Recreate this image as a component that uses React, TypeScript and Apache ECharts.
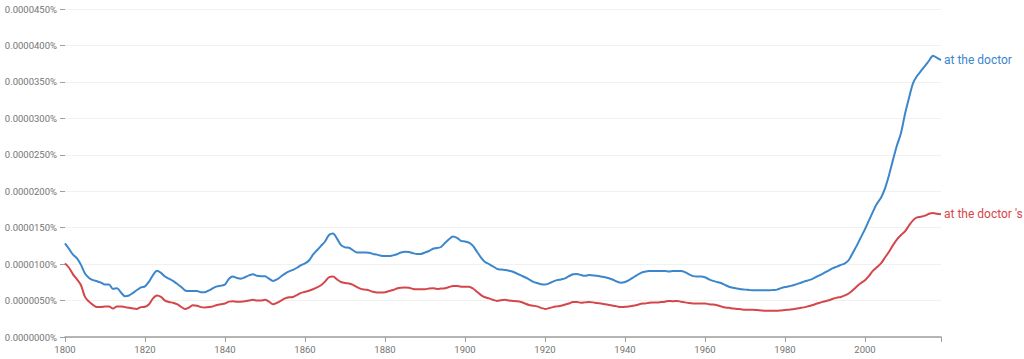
import React, { useEffect, useRef } from "react";
import * as echarts from "echarts";

const startYear = 1800;
const endYear = 2019;

// values in units of 0.000001 %
const atTheDoctor = [
  12.85, 12.1, 11.3, 10.8, 9.9, 8.7, 8.1, 7.8, 7.65, 7.45,
  7.2, 7.2, 6.6, 6.7, 6.1, 5.6, 5.7, 6.05, 6.45, 6.8,
  6.95, 7.6, 8.5, 9.1, 8.8, 8.3, 8.0, 7.7, 7.3, 6.9,
  6.4, 6.3, 6.3, 6.3, 6.15, 6.15, 6.4, 6.7, 6.95, 7.05,
  7.2, 8.0, 8.3, 8.1, 8.0, 8.2, 8.45, 8.6, 8.4, 8.35,
  8.35, 8.0, 7.7, 7.9, 8.3, 8.7, 9.0, 9.2, 9.5, 9.85,
  10.1, 10.5, 11.3, 11.9, 12.5, 13.1, 14.0, 14.2, 13.5, 12.6,
  12.3, 12.25, 11.9, 11.6, 11.6, 11.6, 11.55, 11.4, 11.3, 11.15,
  11.1, 11.1, 11.2, 11.35, 11.6, 11.7, 11.65, 11.5, 11.4, 11.4,
  11.6, 11.8, 12.1, 12.2, 12.35, 12.9, 13.4, 13.8, 13.6, 13.2,
  13.1, 12.95, 12.5, 11.7, 10.9, 10.3, 10.0, 9.7, 9.35, 9.25,
  9.2, 9.1, 8.95, 8.7, 8.45, 8.2, 7.9, 7.6, 7.4, 7.25,
  7.2, 7.35, 7.6, 7.8, 7.9, 8.05, 8.35, 8.6, 8.65, 8.5,
  8.4, 8.5, 8.45, 8.4, 8.3, 8.2, 8.05, 7.85, 7.6, 7.45,
  7.55, 7.8, 8.15, 8.5, 8.8, 8.95, 9.05, 9.05, 9.05, 9.05,
  9.05, 9.0, 9.05, 9.05, 9.05, 8.9, 8.6, 8.35, 8.3, 8.3,
  8.2, 7.9, 7.7, 7.55, 7.4, 7.15, 6.9, 6.75, 6.65, 6.55,
  6.5, 6.45, 6.4, 6.4, 6.4, 6.4, 6.4, 6.45, 6.5, 6.7,
  6.85, 6.95, 7.1, 7.25, 7.45, 7.65, 7.8, 8.0, 8.3, 8.55,
  8.85, 9.15, 9.45, 9.65, 9.9, 10.1, 10.6, 11.6, 12.6, 13.7,
  14.8, 16.0, 17.2, 18.3, 19.1, 20.4, 22.2, 24.3, 26.3, 28.0,
  30.6, 32.8, 34.8, 35.8, 36.5, 37.2, 37.9, 38.6, 38.3, 38.0,
];

const atTheDoctors = [
  10.1, 9.5, 8.6, 7.9, 7.1, 5.5, 4.85, 4.4, 4.1, 4.1,
  4.2, 4.2, 3.9, 4.2, 4.2, 4.1, 4.0, 3.9, 3.85, 4.1,
  4.15, 4.5, 5.3, 5.7, 5.5, 5.0, 4.8, 4.7, 4.5, 4.15,
  3.85, 4.05, 4.35, 4.3, 4.1, 4.05, 4.1, 4.2, 4.4, 4.5,
  4.6, 4.85, 4.9, 4.85, 4.85, 4.9, 5.0, 5.1, 5.0, 5.0,
  5.1, 4.85, 4.5, 4.7, 5.0, 5.3, 5.45, 5.5, 5.75, 6.05,
  6.2, 6.35, 6.55, 6.8, 7.1, 7.6, 8.2, 8.3, 7.9, 7.55,
  7.4, 7.35, 7.15, 6.85, 6.6, 6.5, 6.4, 6.2, 6.1, 6.1,
  6.15, 6.3, 6.45, 6.65, 6.75, 6.8, 6.75, 6.6, 6.55, 6.55,
  6.55, 6.65, 6.7, 6.6, 6.65, 6.7, 6.85, 7.0, 7.0, 6.9,
  6.9, 6.9, 6.65, 6.2, 5.75, 5.45, 5.3, 5.1, 4.95, 5.05,
  5.1, 5.0, 4.95, 4.9, 4.8, 4.6, 4.4, 4.3, 4.2, 4.0,
  3.85, 3.95, 4.1, 4.2, 4.3, 4.45, 4.6, 4.8, 4.8, 4.7,
  4.75, 4.8, 4.75, 4.65, 4.6, 4.5, 4.4, 4.3, 4.2, 4.1,
  4.15, 4.2, 4.3, 4.4, 4.55, 4.6, 4.7, 4.75, 4.75, 4.8,
  4.85, 4.95, 4.9, 4.95, 4.85, 4.75, 4.65, 4.6, 4.6, 4.6,
  4.6, 4.5, 4.45, 4.35, 4.2, 4.05, 4.0, 3.9, 3.85, 3.8,
  3.75, 3.75, 3.75, 3.7, 3.65, 3.6, 3.6, 3.6, 3.6, 3.65,
  3.7, 3.75, 3.8, 3.9, 4.0, 4.1, 4.25, 4.4, 4.6, 4.75,
  4.9, 5.05, 5.25, 5.4, 5.5, 5.7, 6.0, 6.45, 6.95, 7.4,
  7.8, 8.4, 9.1, 9.6, 10.1, 10.9, 11.7, 12.6, 13.4, 14.0,
  14.5, 15.3, 16.0, 16.4, 16.5, 16.65, 16.9, 17.0, 16.9, 16.85,
];

const seriesNames = ["at the doctor", "at the doctor 's"];
const seriesColors = ["#3b86cc", "#d5464a"];

const toPairs = (vals: number[]) => vals.map((v, i) => [startYear + i, v]);

export default function App() {
  const ref = useRef<HTMLDivElement>(null);
  useEffect(() => {
    if (!ref.current) return;
    const chart = echarts.init(ref.current, null, { renderer: "svg" });
    const font = "Roboto, 'Noto Sans', sans-serif";
    const mk = (idx: number, vals: number[]) => ({
      type: "line",
      name: seriesNames[idx],
      data: toPairs(vals),
      showSymbol: false,
      smooth: 0.3,
      lineStyle: { color: seriesColors[idx], width: 2 },
      itemStyle: { color: seriesColors[idx] },
      endLabel: {
        show: true,
        formatter: seriesNames[idx],
        color: seriesColors[idx],
        fontSize: 12,
        fontFamily: font,
        distance: 3,
      },
    });
    chart.setOption({
      animation: false,
      backgroundColor: "#ffffff",
      grid: { left: 65, right: 83, top: 9, bottom: 22, containLabel: false },
      xAxis: {
        type: "value",
        min: startYear,
        max: endYear,
        interval: 20,
        axisLine: { show: true, lineStyle: { color: "#9e9e9e", width: 1.5 } },
        axisTick: { show: true, length: 5, lineStyle: { color: "#9e9e9e" } },
        axisLabel: {
          color: "#757575",
          fontSize: 9.5,
          fontFamily: font,
          margin: 7,
          formatter: (v: number) => (v % 20 === 0 ? String(v) : ""),
        },
        splitLine: { show: false },
      },
      yAxis: {
        type: "value",
        min: 0,
        max: 45,
        interval: 5,
        axisLine: { show: false },
        axisTick: { show: true, length: 5, lineStyle: { color: "#9e9e9e" } },
        axisLabel: {
          color: "#757575",
          fontSize: 9.5,
          fontFamily: font,
          margin: 8,
          formatter: (v: number) => (v * 1e-6).toFixed(7) + "%",
        },
        splitLine: { show: true, lineStyle: { color: "#f1f1f1", width: 1 } },
      },
      series: [mk(0, atTheDoctor), mk(1, atTheDoctors)],
    });
    return () => chart.dispose();
  }, []);
  return (
    <div
      ref={ref}
      style={{ position: "fixed", left: 0, top: 0, width: 1024, height: 359, background: "#fff" }}
    />
  );
}
